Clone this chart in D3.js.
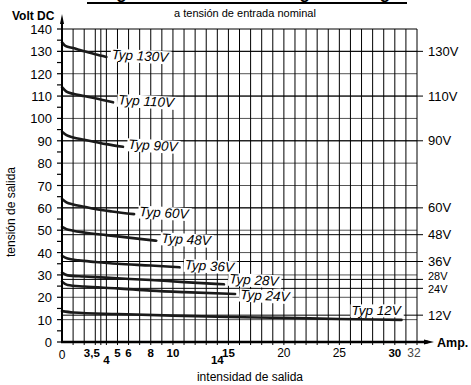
<!DOCTYPE html>
<html>
<head>
<meta charset="utf-8">
<script src="https://cdn.jsdelivr.net/npm/d3@7"></script>
<style>
  body { margin: 0; background: #fff; }
  svg { display: block; font-family: Arial, "Liberation Sans", Helvetica, sans-serif; }
</style>
</head>
<body>
<svg id="chart" width="471" height="385"></svg>
<script>
// values
const nominals = [130, 110, 90, 60, 48, 36, 28, 24, 12];
const curves = [
	[[0, 134], [0.3, 132.5], [1, 131.5], [2, 130], [3, 128.7], [4, 127.5]],
	[[0, 114], [0.4, 112], [1, 111], [2, 110], [3, 109], [4.6, 107.2]],
	[[0, 94], [0.4, 92.5], [1, 91.5], [2, 90.5], [3, 89.5], [4, 88.5], [5.5, 87.3]],
	[[0, 64], [0.4, 62.5], [1, 61.5], [2, 60.5], [3, 59.5], [4.5, 58.4], [6.5, 57.2]],
	[[0, 51.5], [0.4, 50.5], [1, 49.8], [2, 49], [4, 47.8], [6, 46.7], [8.5, 45.3]],
	[[0, 38.5], [0.5, 37.3], [1.5, 36.5], [3, 35.8], [5, 35], [8, 34.2], [10.6, 33.4]],
	[[0, 31], [0.5, 29.8], [2, 29.3], [5, 28.5], [8, 27.7], [11, 26.8], [14.6, 25.8]],
	[[0, 27], [0.5, 25.5], [2, 24.8], [5, 24], [8, 23], [11, 22.3], [15.6, 21.5]],
	[[0, 13.8], [1, 13.2], [5, 12.5], [10, 11.8], [15, 11.2], [20, 10.8], [25, 10.3], [30.6, 9.9]]
];
const xTicks = [0, 3.5, 4, 5, 6, 8, 10, 14, 15, 20, 25, 30, 32];
const xTickLabels = ['0', '3,5', '4', '5', '6', '8', '10', '14', '15', '20', '25', '30', '32'];
const xBold = [3.5, 4, 5, 6, 8, 10, 14, 15, 30];
const xLow = [4, 14];
const xGrid = d3.range(1, 33).concat([3.5]);
const yTicks = d3.range(0, 141, 10);

const svg = d3.select('#chart');
const x = d3.scaleLinear().domain([0, 32]).range([62, 417]);
const y = d3.scaleLinear().domain([0, 140]).range([342, 29]);

// title (cut off at top in the original)
svg.append('text')
	.attr('x', 247).attr('y', -1)
	.attr('text-anchor', 'middle')
	.attr('font-size', 17).attr('font-weight', 'bold')
	.text('Regulación de tensión según la carga');
svg.append('rect').attr('x', 87).attr('y', 2).attr('width', 320).attr('height', 2).attr('fill', '#000');

svg.append('text')
	.attr('x', 245).attr('y', 17)
	.attr('text-anchor', 'middle')
	.attr('font-size', 11)
	.text('a tensión de entrada nominal');

const grid = svg.append('g');

// horizontal grid
grid.selectAll('line.h')
	.data(yTicks.filter((d) => d > 0))
	.join('line')
	.attr('x1', x(0)).attr('x2', x(32))
	.attr('y1', (d) => y(d)).attr('y2', (d) => y(d))
	.attr('stroke', (d) => (d === 140 ? '#000' : '#555'))
	.attr('stroke-width', 1);

grid.selectAll('line.n')
	.data(nominals)
	.join('line')
	.attr('x1', x(0)).attr('x2', x(32) + 6)
	.attr('y1', (d) => y(d)).attr('y2', (d) => y(d))
	.attr('stroke', '#000')
	.attr('stroke-width', 1);

// vertical grid
grid.selectAll('line.v')
	.data(xGrid)
	.join('line')
	.attr('x1', (d) => x(d)).attr('x2', (d) => x(d))
	.attr('y1', y(140)).attr('y2', y(0) + 3)
	.attr('stroke', '#000')
	.attr('stroke-width', 1);

// curves
const line = d3.line()
	.x((d) => x(d[0]))
	.y((d) => y(d[1]))
	.curve(d3.curveMonotoneX);

svg.append('g')
	.selectAll('path')
	.data(curves)
	.join('path')
	.attr('d', line)
	.attr('fill', 'none')
	.attr('stroke', '#1a1a1a')
	.attr('stroke-width', 2.6)
	.attr('stroke-linecap', 'round');

// Typ labels with white box
const labelShift = { 28: -3, 24: 3 };
const labels = svg.append('g');
curves.forEach((c, i) => {
	const last = c[c.length - 1];
	const isLast = i === curves.length - 1;
	const lx = isLast ? x(last[0]) - 50 : x(last[0]) + 5;
	const ly = isLast ? y(last[1]) - 5 : y(last[1]) + 2 + (labelShift[nominals[i]] ?? 0);
	const g = labels.append('g')
		.attr('transform', `translate(${lx},${ly}) rotate(${isLast ? 0 : 3})`);
	const rect = g.append('rect').attr('fill', '#fff');
	const t = g.append('text')
		.attr('font-size', 13.5)
		.attr('font-style', 'italic')
		.text(`Typ ${nominals[i]}V`);
	const b = t.node().getBBox();
	rect.attr('x', b.x - 1).attr('y', b.y + 1.5).attr('width', b.width + 2).attr('height', b.height - 2);
});

// right labels (28V / 24V squeezed together)
const rightShift = { 28: -3.5, 24: 0.5 };
svg.append('g')
	.selectAll('text')
	.data(nominals)
	.join('text')
	.attr('x', 428)
	.attr('y', (d) => y(d) + 4.5 + (rightShift[d] ?? 0))
	.attr('font-size', (d) => (d === 28 || d === 24 ? 11 : 13))
	.text((d) => `${d}V`);

// y axis
const yAxis = svg.append('g');
yAxis.append('line')
	.attr('x1', x(0)).attr('x2', x(0))
	.attr('y1', y(0)).attr('y2', 20)
	.attr('stroke', '#000').attr('stroke-width', 2);
yAxis.append('path')
	.attr('d', `M${x(0) - 2},24 L${x(0)},14 L${x(0) + 2},24 Z`)
	.attr('fill', '#000');
yAxis.selectAll('line.t')
	.data(d3.range(0, 141, 5))
	.join('line')
	.attr('x1', x(0) - 5).attr('x2', x(0))
	.attr('y1', (d) => y(d)).attr('y2', (d) => y(d))
	.attr('stroke', '#000').attr('stroke-width', 1.2);
yAxis.selectAll('text')
	.data(yTicks)
	.join('text')
	.attr('x', 52)
	.attr('y', (d) => y(d) + 5)
	.attr('text-anchor', 'end')
	.attr('font-size', 13)
	.text((d) => d);

svg.append('text')
	.attr('x', 12).attr('y', 20)
	.attr('font-size', 12).attr('font-weight', 'bold')
	.text('Volt DC');

// x axis
const xAxis = svg.append('g');
xAxis.append('line')
	.attr('x1', x(0) - 1).attr('x2', 428)
	.attr('y1', y(0)).attr('y2', y(0))
	.attr('stroke', '#000').attr('stroke-width', 2.5);
xAxis.append('path')
	.attr('d', `M424,${y(0) - 2.5} L434,${y(0)} L424,${y(0) + 2.5} Z`)
	.attr('fill', '#000');
xAxis.selectAll('text')
	.data(xTicks)
	.join('text')
	.attr('x', (d) => (d === 3.5 ? x(d) - 1 : d === 32 ? x(d) - 3 : x(d)))
	.attr('y', (d) => (xLow.includes(d) ? 364 : d === 0 ? 359 : 357))
	.attr('text-anchor', (d) => (d === 3.5 ? 'end' : 'middle'))
	.attr('font-size', (d) => (xBold.includes(d) ? 11.5 : 12))
	.attr('font-weight', (d) => (xBold.includes(d) ? 'bold' : 'normal'))
	.attr('fill', (d) => (d === 32 ? '#444' : '#000'))
	.text((d, i) => xTickLabels[i]);

svg.append('text')
	.attr('x', 437).attr('y', 347)
	.attr('font-size', 12.5).attr('font-weight', 'bold')
	.text('Amp.');

svg.append('text')
	.attr('x', 250).attr('y', 381)
	.attr('text-anchor', 'middle')
	.attr('font-size', 12)
	.text('intensidad de salida');

svg.append('text')
	.attr('transform', 'translate(15,212) rotate(-90)')
	.attr('text-anchor', 'middle')
	.attr('font-size', 12)
	.text('tensión de salida');
</script>
</body>
</html>
